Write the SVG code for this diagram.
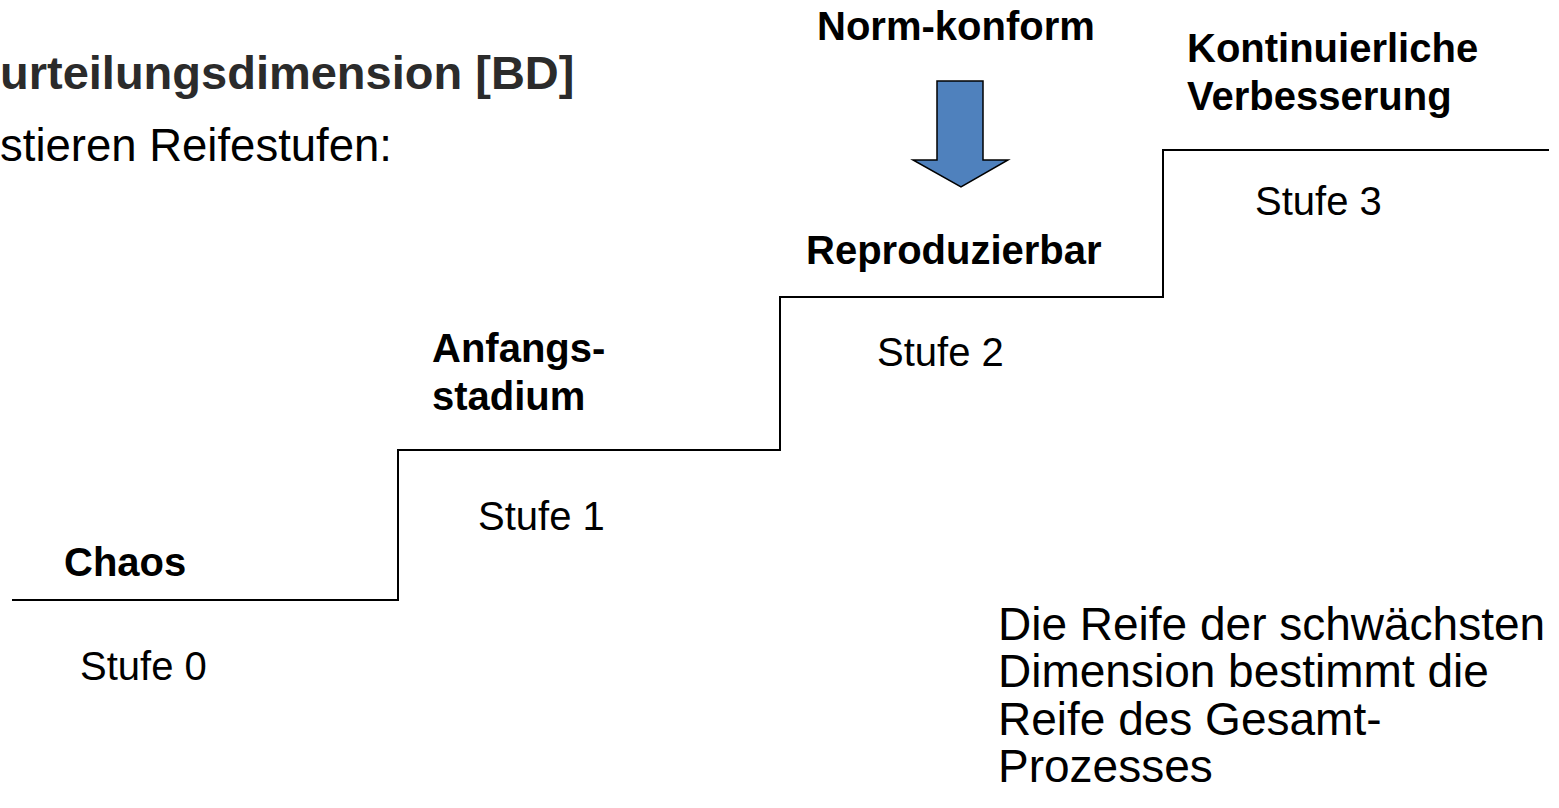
<svg xmlns="http://www.w3.org/2000/svg" width="1559" height="808" viewBox="0 0 1559 808">
<style>
.t{font-family:"Liberation Sans",Arial,sans-serif;font-size:40px;fill:#000}
.b{font-weight:bold}
.h{font-size:47px;fill:#2b2b2b}
.s{font-size:45.5px}
.n{font-size:46px}
.step{fill:none;stroke:#000;stroke-width:2}
.arrow{fill:#4f81bd;stroke:#000;stroke-width:1.5}
</style>
<rect width="1559" height="808" fill="#fff"/>
<g id="header">
<text class="t b h" x="0" y="89">urteilungsdimension [BD]</text>
<text class="t s" x="0" y="161">stieren Reifestufen:</text>
</g>
<g id="connectors">
<path class="step" d="M12,600 H398 V450 H780 V297 H1163 V150 H1549"/>
</g>
<g id="stufe0">
<text class="t b" x="64" y="576">Chaos</text>
<text class="t" x="80" y="680">Stufe 0</text>
</g>
<g id="stufe1">
<text class="t b" x="432" y="362">Anfangs-</text>
<text class="t b" x="432" y="410">stadium</text>
<text class="t" x="478" y="530">Stufe 1</text>
</g>
<g id="stufe2">
<text class="t b" x="806" y="264">Reproduzierbar</text>
<text class="t" x="877" y="366">Stufe 2</text>
</g>
<g id="normkonform">
<text class="t b" x="817" y="40">Norm-konform</text>
<path class="arrow" d="M937,81 H983 V160 H1008 L961,187 L913,160 H937 Z"/>
</g>
<g id="stufe3">
<text class="t b" x="1187" y="62">Kontinuierliche</text>
<text class="t b" x="1187" y="110">Verbesserung</text>
<text class="t" x="1255" y="215">Stufe 3</text>
</g>
<g id="note">
<text class="t n" x="998" y="640">Die Reife der schwächsten</text>
<text class="t n" x="998" y="687">Dimension bestimmt die</text>
<text class="t n" x="998" y="735">Reife des Gesamt-</text>
<text class="t n" x="998" y="782">Prozesses</text>
</g>
</svg>
